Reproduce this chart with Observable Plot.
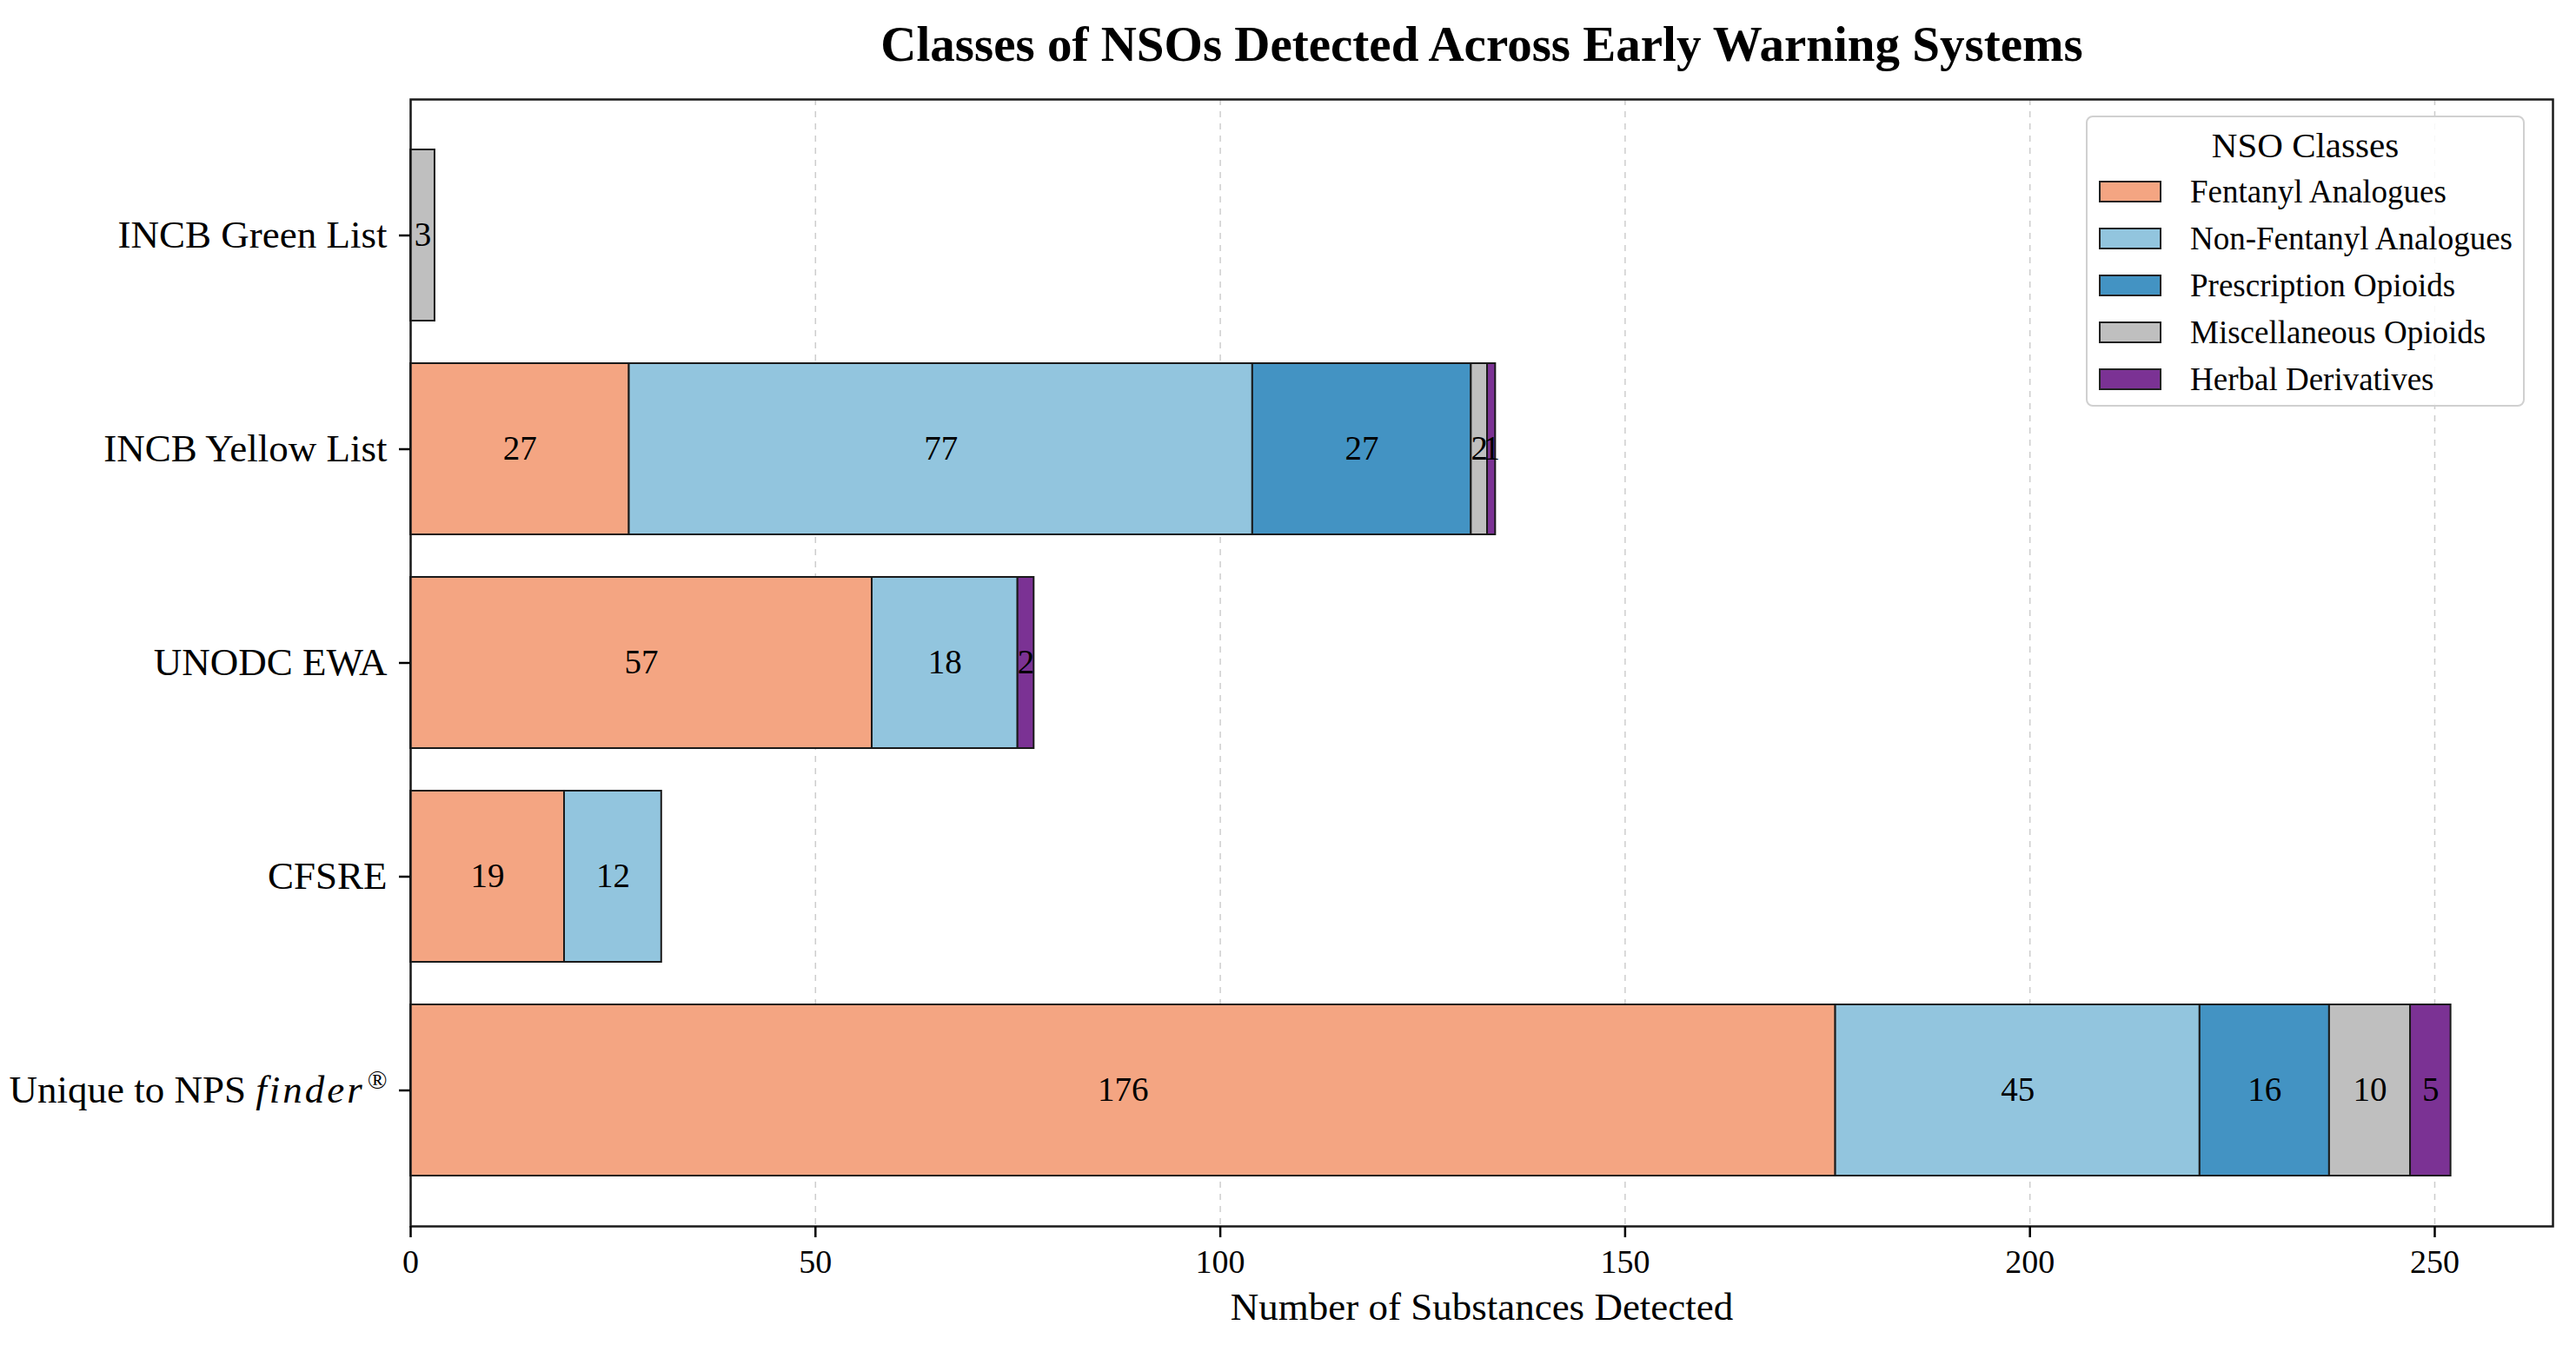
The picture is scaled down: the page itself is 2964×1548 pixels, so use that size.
<!DOCTYPE html>
<html>
<head>
<meta charset="utf-8">
<script src="https://cdn.jsdelivr.net/npm/d3@7"></script>
<script src="https://cdn.jsdelivr.net/npm/@observablehq/plot@0.6"></script>
<style>
  body { margin: 0; background: #fff; font-family: "Liberation Serif", "Times New Roman", serif; }
  #wrap { position: relative; width: 2964px; height: 1548px; background: #fff; }
  #title { height: 100px; width: 2964px; position: relative; color: #000; }
  #title span { position: absolute; left: 1705px; top: 50%; transform: translate(-50%, -50%); white-space: nowrap; font-weight: bold; font-size: 57px; }
  #legend { position: absolute; left: 2400px; top: 133px; width: 505px; height: 335px; box-sizing: border-box;
            border: 2px solid #d0d0d0; border-radius: 8px; background: rgba(255,255,255,0.85); }
  #legend .lt { text-align: center; font-size: 41px; margin-top: 8px; line-height: 48px; color: #000; }
  #legend .row { position: absolute; left: 13px; height: 40px; display: flex; align-items: center; font-size: 37px; color: #000; white-space: nowrap; }
  #legend .sw { width: 72px; height: 25px; border: 2px solid #222; margin-right: 33px; box-sizing: border-box; }
</style>
</head>
<body>
<div id="wrap">
  <div id="title"><span>Classes of NSOs Detected Across Early Warning Systems</span></div>
  <div id="chart"></div>
  <div id="legend"></div>
</div>
<script>
// ---- data ----
const systems = ["INCB Green List", "INCB Yellow List", "UNODC EWA", "CFSRE", "Unique to NPS finder®"];
const classes = ["Fentanyl Analogues", "Non-Fentanyl Analogues", "Prescription Opioids", "Miscellaneous Opioids", "Herbal Derivatives"];
const fentanyl     = [0, 27, 57, 19, 176];
const nonFentanyl  = [0, 77, 18, 12, 45];
const prescription = [0, 27, 0, 0, 16];
const miscellaneous = [3, 2, 0, 0, 10];
const herbal       = [0, 1, 2, 0, 5];
const classColors = ["#f4a582", "#92c5de", "#4393c3", "#bfbfbf", "#7b3294"];
const xTicks = [0, 50, 100, 150, 200, 250];
const xLabel = "Number of Substances Detected";
const legendTitle = "NSO Classes";

const series = [fentanyl, nonFentanyl, prescription, miscellaneous, herbal];
const rows = [];
systems.forEach((s, i) => {
  classes.forEach((c, j) => {
    const v = series[j][i];
    if (v > 0) rows.push({system: s, cls: c, value: v});
  });
});

const chart = Plot.plot({
  width: 2964,
  height: 1448,
  marginLeft: 472,
  marginRight: 27,
  marginTop: 14,
  marginBottom: 137,
  style: {fontFamily: "'Liberation Serif', 'Times New Roman', serif", background: "white", color: "black"},
  x: {domain: [0, 264.6], ticks: xTicks},
  y: {domain: systems, type: "band", paddingInner: 0.2, paddingOuter: 0.236},
  color: {domain: classes, range: classColors},
  marks: [
    Plot.gridX(xTicks, {stroke: "#b8b8b8", strokeOpacity: 0.7, strokeWidth: 1.5, strokeDasharray: "7,7"}),
    Plot.barX(rows, Plot.stackX({x: "value", y: "system", fill: "cls", stroke: "#1a1a1a", strokeWidth: 2, inset: 0, order: null})),
    Plot.text(rows, Plot.stackX({x: "value", y: "system", text: d => String(d.value), fontSize: 39, fill: "black", order: null})),
    Plot.frame({stroke: "#1a1a1a", strokeWidth: 2.5}),
    Plot.axisX(xTicks, {tickSize: 13, tickPadding: 14, fontSize: 38, label: null, strokeWidth: 2.5}),
    Plot.axisY({tickSize: 13, tickPadding: 14, fontSize: 45, label: null, strokeWidth: 2.5}),
    Plot.text([xLabel], {frameAnchor: "bottom", dy: 107, fontSize: 45, text: d => d, fill: "black"})
  ]
});
document.getElementById("chart").appendChild(chart);

// Italic "finder" and superscript ® in the last y tick label
chart.querySelectorAll("text").forEach(t => {
  if (t.textContent === "Unique to NPS finder®") {
    const ns = "http://www.w3.org/2000/svg";
    while (t.firstChild) t.removeChild(t.firstChild);
    const a = document.createElementNS(ns, "tspan"); a.textContent = "Unique to NPS ";
    const b = document.createElementNS(ns, "tspan"); b.textContent = "finder"; b.setAttribute("font-style", "italic"); b.setAttribute("letter-spacing", "3");
    const c = document.createElementNS(ns, "tspan"); c.textContent = "®"; c.setAttribute("font-size", "30"); c.setAttribute("dy", "-16"); c.setAttribute("dx", "3");
    t.appendChild(a); t.appendChild(b); t.appendChild(c);
  }
});

// Legend
const lg = document.getElementById("legend");
const lt = document.createElement("div"); lt.className = "lt"; lt.textContent = legendTitle; lg.appendChild(lt);
classes.forEach((c, j) => {
  const r = document.createElement("div"); r.className = "row";
  r.style.top = (65 + j * 54) + "px";
  const sw = document.createElement("div"); sw.className = "sw"; sw.style.background = classColors[j];
  const tx = document.createElement("span"); tx.textContent = c;
  r.appendChild(sw); r.appendChild(tx); lg.appendChild(r);
});
</script>
</body>
</html>
